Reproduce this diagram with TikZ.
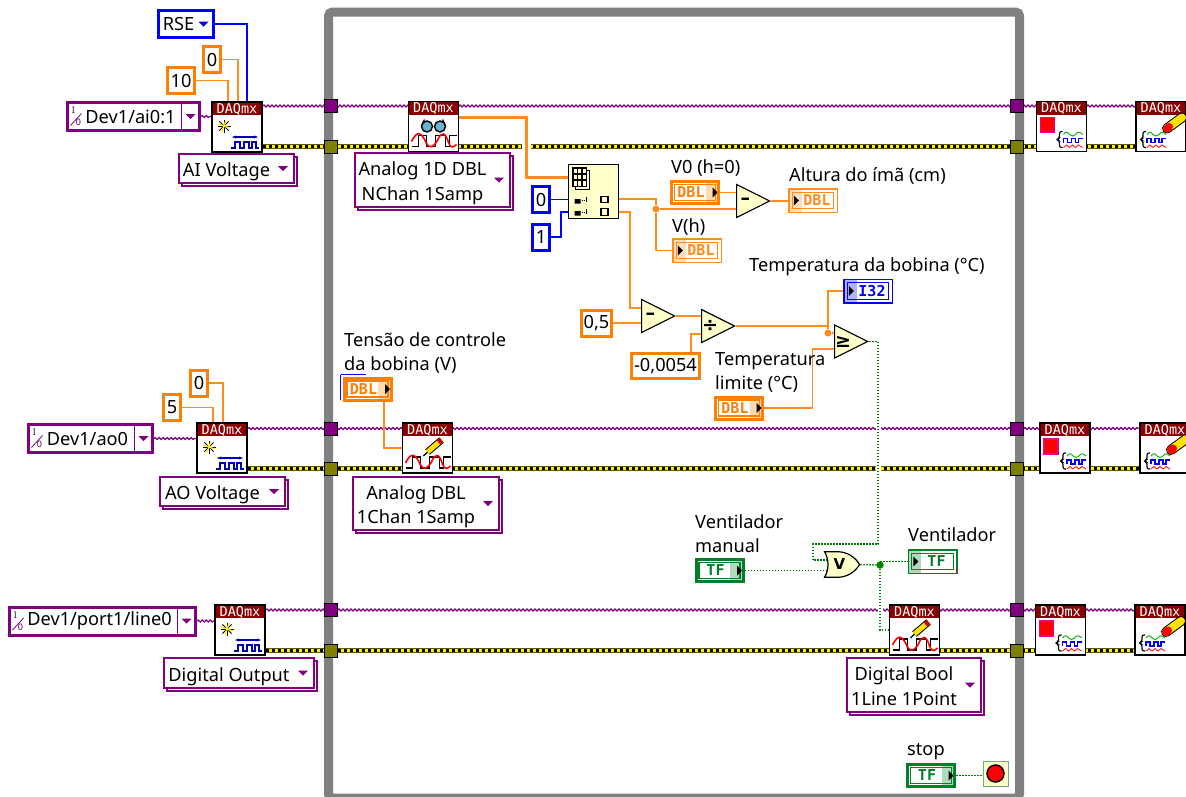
\documentclass[tikz,border=0pt]{standalone}
\usepackage{fontspec}
\setmainfont{Noto Sans}
\newfontfamily\monofam{DejaVu Sans Mono}
\newfontfamily\symfam{DejaVu Sans}
\usepackage{xcolor}
\usetikzlibrary{shapes.geometric, shapes.gates.logic.US, arrows.meta, shadows, backgrounds, decorations.pathmorphing, positioning, calc}
\definecolor{lvorange}{RGB}{255,128,0}
\definecolor{lvwire}{RGB}{255,140,30}
\definecolor{lvblue}{RGB}{0,0,255}
\definecolor{lvgreen}{RGB}{0,128,40}
\definecolor{lvpurple}{RGB}{128,0,128}
\definecolor{lvolive}{RGB}{128,128,0}
\definecolor{gatefill}{RGB}{255,255,204}
\definecolor{daqred}{RGB}{139,0,0}
\definecolor{loopgray}{RGB}{128,128,128}
\newcommand{\ppb}{path picture bounding box}
\newcommand{\lvfont}{\fontsize{18.2}{24.5}\selectfont}
\newcommand{\termfont}{\fontsize{15}{16}\selectfont\monofam\bfseries}
\newcommand{\seltext}[1]{\raisebox{-7.5pt}[0pt][0pt]{\begin{tabular}{@{}c@{\hspace{20pt}}}#1\end{tabular}}}
\tikzset{
    signalgl/.pic={
        \draw[black, line width=1.2pt] (-22,20) -- (-15,20) -- (-15,9) -- (-7,9) -- (-7,20) -- (2,20) -- (2,9) -- (12,9) -- (12,20) -- (16,20) -- (16,9) -- (23,9);
        \draw[red, line width=1.6pt] (-22,15) .. controls (-16,3) and (-12,6) .. (-7,17) .. controls (-3,23) and (0,20) .. (4,14) .. controls (8,4) and (12,6) .. (15,16) .. controls (17,22) and (20,21) .. (23,18);
    },
    creategl/.pic={
        \foreach \a in {0,45,...,315} {\draw[black, line width=1pt] (-13,-1) -- ++(\a:6.5);}
        \foreach \a in {20,110,200,290} {\draw[yellow, line width=1.4pt] (-13,-1) -- ++(\a:6);}
        \draw[{Stealth[length=4pt]}-{Stealth[length=4pt]}, lvblue!70!black, line width=1.1pt] (-5,10) -- (21,10);
        \draw[lvblue!70!black, line width=1.1pt] (-6,21) -- (-2,21) -- (-2,15) -- (3,15) -- (3,21) -- (7,21) -- (7,15) -- (12,15) -- (12,21) -- (15,21) -- (15,15) -- (19,15) -- (19,21) -- (22,21);
    },
    readgl/.pic={
        \draw[black, line width=1.2pt] (-12,-1) -- (-9,-7) (12,-1) -- (9,-7);
        \draw[black, fill=cyan!50!teal!70, line width=1.4pt] (-6.5,0) circle (5.5) (6.5,0) circle (5.5);
        \pic {signalgl};
    },
    writegl/.pic={
        \draw[black, line width=7pt] (0,4) -- (14,-8);
        \draw[yellow!85!orange, line width=5pt] (0,4) -- (14,-8);
        \draw[red!80!black, line width=5pt] (11,-5.5) -- (14,-8);
        \draw[black, line width=1.2pt] (-4,8) -- (0,4);
        \pic {signalgl};
    },
    taskgl/.pic={
        \draw[black, line width=1.1pt, rounded corners=2pt] (3,-8) -- (0,-8) -- (0,-1) -- (-3,0) -- (0,1) -- (0,8) -- (3,8);
        \draw[green!70!black, line width=0.9pt] (4,-5) .. controls (6,-8) and (8,-8) .. (10,-5) .. controls (12,-3) and (14,-3) .. (16,-5) .. controls (18,-8) and (20,-8) .. (23,-5);
        \draw[lvblue, line width=1.2pt] (4,3) -- (4,-1) -- (8,-1) -- (8,3) -- (12,3) -- (12,-1) -- (16,-1) -- (16,3) -- (19,3) -- (19,-1) -- (23,-1);
        \draw[red!90, line width=0.9pt] (4,8) -- (7,5.5) -- (10,8) -- (13,5.5) -- (16,8) -- (19,5.5) -- (23,8);
    },
    stopgl/.pic={
        \draw[magenta, fill=red, line width=1.2pt] (-21,-9) rectangle (-7,6);
        \pic at (-2,13) {taskgl};
    },
    cleargl/.pic={
        \pic at (-18,13) {taskgl};
        \draw[black, line width=10pt, line cap=round] (6,2) -- (21,-9);
        \draw[yellow!85!orange, line width=8pt, line cap=round] (6,2) -- (21,-9);
        \draw[red, line width=8pt, line cap=round] (6,2) -- (8,0.5);
    },
    arraygl/.pic={
        \draw[black, line width=1.1pt] (-20.5,-23.5) rectangle (-7,-5) (-16,-23.5) -- (-16,-5) (-11.5,-23.5) -- (-11.5,-5) (-20.5,-17.5) -- (-7,-17.5) (-20.5,-11.5) -- (-7,-11.5);
        \draw[black, line width=1.1pt] (-7,-21) -- (-4,-21) -- (-4,-2) -- (-18,-2) -- (-18,-5);
        \fill[black] (-19,7.5) rectangle (-13,12) (-19,19.5) rectangle (-13,24);
        \draw[black, line width=1pt, densely dotted] (-12,9) -- (-8,9) (-12,21) -- (-8,21);
        \draw[black, line width=1.2pt] (-7,10) -- (-7,5) (-7,22) -- (-7,17);
        \draw[black, line width=1.2pt] (7.5,5) rectangle (14.5,11) (7.5,17) rectangle (14.5,24);
    }
}
\begin{document}
\begin{tikzpicture}[x=1pt, y=-1pt,
    vibox/.style={draw=black, line width=1.5pt, fill=white, minimum size=50pt, inner sep=0pt,
        path picture={
            \fill[daqred] (\ppb.north west) rectangle ([yshift=-13pt]\ppb.north east);
            \node[text=white, inner sep=0pt, font=\fontsize{13.5}{14}\selectfont\monofam] at ([yshift=-7pt]\ppb.north) {DAQmx};
        }},
    tunnel/.style={draw=black, line width=1pt, fill=#1, minimum size=13pt, inner sep=0pt},
    constbox/.style={draw=#1, line width=3pt, fill=white, inner sep=0pt, minimum width=17pt, minimum height=26pt, font=\lvfont},
    enumbox/.style={draw=lvblue, line width=3pt, fill=white, inner sep=0pt, minimum width=55pt, minimum height=27pt, font=\lvfont,
        path picture={\fill[lvblue] ([xshift=-15pt,yshift=2.5pt]\ppb.east) -- ++(10,0) -- ++(-5,5) -- cycle;}},
    pathctl/.style={draw=lvpurple, line width=3pt, fill=white, inner sep=0pt, minimum height=28pt, font=\lvfont,
        path picture={
            \draw[lvpurple, line width=1.2pt] ([xshift=-18pt]\ppb.north east) -- ([xshift=-18pt]\ppb.south east);
            \fill[lvpurple] ([xshift=-14pt,yshift=2.5pt]\ppb.east) -- ++(10,0) -- ++(-5,5) -- cycle;
            \draw[lvpurple, line width=0.8pt] ([xshift=3pt,yshift=-9pt]\ppb.west) -- ([xshift=14pt,yshift=3pt]\ppb.west);
            \node[lvpurple!60!black, inner sep=0pt, font=\fontsize{9}{9}\selectfont] at ([xshift=6pt,yshift=6pt]\ppb.west) {I};
            \node[lvpurple!60!black, inner sep=0pt, font=\fontsize{9}{9}\selectfont] at ([xshift=11pt,yshift=-6pt]\ppb.west) {0};
        }},
    selbox/.style={draw=lvpurple, line width=1.2pt, fill=white, inner sep=0pt, font=\lvfont,
        copy shadow={shadow xshift=3pt, shadow yshift=-3pt, draw=lvpurple, fill=white},
        path picture={\fill[lvpurple] ([xshift=-16pt,yshift=2.5pt]\ppb.east) -- ++(10,0) -- ++(-5,5) -- cycle;}},
    ctlterm/.style={draw=#1, line width=3pt, fill=white, inner sep=0pt, minimum width=47pt, minimum height=22pt, font=\termfont, text=#1,
        path picture={
            \fill[#1!30] ([xshift=-13pt]\ppb.north east) rectangle (\ppb.south east);
            \draw[#1, line width=1.2pt] ([shift={(3pt,-3pt)}]\ppb.north west) rectangle ([shift={(-3pt,3pt)}]\ppb.south east);
            \fill[black] ([xshift=-6pt,yshift=5pt]\ppb.east) -- ++(5,5) -- ++(-5,5) -- cycle;
        }},
    indterm/.style={draw=#1, line width=1.5pt, fill=white, inner sep=0pt, minimum width=48.5pt, minimum height=23.5pt, font=\termfont, text=#1,
        path picture={
            \fill[#1!30] (\ppb.north west) rectangle ([xshift=13pt]\ppb.south west);
            \draw[#1, line width=1.2pt] ([shift={(3.5pt,-3.5pt)}]\ppb.north west) rectangle ([shift={(-3.5pt,3.5pt)}]\ppb.south east);
            \fill[black] ([xshift=5pt,yshift=5pt]\ppb.west) -- ++(5,5) -- ++(-5,5) -- cycle;
        }},
    gate/.style={isosceles triangle, isosceles triangle stretches, shape border rotate=0, draw=black, line width=1.2pt, fill=gatefill,
        minimum width=33pt, minimum height=33pt, inner sep=0pt, anchor=west, font=\fontsize{19}{19}\selectfont\symfam\bfseries},
    junction/.style={circle, fill=#1, minimum size=7pt, inner sep=0pt},
    lbl/.style={anchor=base west, inner sep=0pt, font=\lvfont, align=left, text=black},
    orwire/.style={draw=lvwire, line width=1.8pt},
    blwire/.style={draw=lvblue, line width=1.3pt},
    grwire/.style={draw=green!50!black, line width=1.5pt, dash pattern=on 1.5pt off 1.5pt, preaction={draw=white, solid, line width=5pt}},
    taskwire/.style={draw=lvpurple, line width=1.1pt, decorate, decoration={snake, amplitude=1pt, segment length=4pt}},
    errwire/.style={draw=black, line width=2.6pt, dash pattern=on 3pt off 3pt,
        preaction={draw=lvolive!70!black, solid, line width=5.5pt}, preaction={draw=yellow, solid, line width=3.2pt}}
]
\useasboundingbox (0,0) rectangle (1186,796);

\node[pathctl, minimum width=132pt] (devai) at (133.5,116.5) {Dev1/ai0:1\hspace*{6pt}};
\node[pathctl, minimum width=124pt] (devao) at (90.5,438.5) {Dev1/ao0\hspace*{6pt}};
\node[pathctl, minimum width=186pt] (devport) at (102.5,621) {Dev1/port1/line0\hspace*{6pt}};
\node[enumbox] (crse) at (186,24) {RSE\hspace*{15pt}};
\node[constbox=lvorange] (cmin1) at (212,59.5) {0};
\node[constbox=lvorange, minimum width=27pt] (cmax1) at (181,80.5) {10};
\node[constbox=lvorange] (cmin2) at (199,383) {0};
\node[constbox=lvorange] (cmax2) at (172,407.5) {5};

\foreach \r/\x/\y in {1/237/127, 2/222/448, 3/240/630} {
    \node[vibox] (create\r) at (\x,\y) {};
    \pic at (create\r) {creategl};
}
\node[selbox, minimum width=115pt, minimum height=29pt] (selai) at (236.5,168.5) {\seltext{AI Voltage}};
\node[selbox, minimum width=125pt, minimum height=29pt] (selao) at (222.5,491.5) {\seltext{AO Voltage}};
\node[selbox, minimum width=150pt, minimum height=30pt] (seldo) at (239,673) {\seltext{Digital Output}};

\node[vibox] (read1) at (433.5,126.5) {};
\pic at (read1) {readgl};
\node[vibox] (write1) at (427.5,448) {};
\pic at (write1) {writegl};
\node[vibox] (write3) at (914.5,630) {};
\pic at (write3) {writegl};
\node[selbox, minimum width=155pt, minimum height=54pt] (selread) at (432.5,180) {\seltext{Analog 1D DBL\\NChan 1Samp}};
\node[selbox, minimum width=146pt, minimum height=53pt] (selwrite) at (426,503.5) {\seltext{Analog DBL\\1Chan 1Samp}};
\node[selbox, minimum width=134pt, minimum height=54pt] (seldig) at (914,685) {\seltext{Digital Bool\\1Line 1Point}};

\foreach \r/\a/\b/\y in {1/1061.5/1161/126.5, 2/1065/1165/448, 3/1060.5/1160/630} {
    \node[vibox] (stop\r) at (\a,\y) {};
    \pic at (stop\r) {stopgl};
    \node[vibox] (clear\r) at (\b,\y) {};
    \pic at (clear\r) {cleargl};
}
\foreach \r/\p/\e in {1/106/146.5, 2/428.5/468.5, 3/610/650.5} {
    \node[tunnel=lvpurple] (pl\r) at (331,\p) {};
    \node[tunnel=lvolive] (el\r) at (331,\e) {};
    \node[tunnel=lvpurple] (pr\r) at (1017,\p) {};
    \node[tunnel=lvolive] (er\r) at (1017,\e) {};
}

\node[draw=black, line width=1.5pt, fill=gatefill, minimum width=50pt, minimum height=54pt, inner sep=0pt] (idx) at (593.5,191.5) {};
\pic at (idx) {arraygl};
\node[constbox=lvblue] (cidx0) at (541,199.5) {0};
\node[constbox=lvblue] (cidx1) at (541,237) {1};
\node[ctlterm=lvorange] (vzero) at (695,192.5) {DBL\hspace*{8pt}};
\node[indterm=lvwire] (vh) at (697,250.5) {\hspace*{8pt}DBL};
\node[indterm=lvwire] (altura) at (813,200.5) {\hspace*{8pt}DBL};
\node[gate] (sub1) at (736,201) {\hspace*{-2pt}–};
\node[gate] (sub2) at (641,316) {\hspace*{-2pt}–};
\node[constbox=lvorange, minimum width=30pt] (coff) at (596.5,323) {0,5};
\node[gate] (divd) at (701,326) {\hspace*{-2pt}÷};
\node[constbox=lvorange, minimum width=68pt, minimum height=25pt] (cgain) at (665.5,366) {-0,0054};
\node[gate] (cmp) at (834,341.5) {\hspace*{-2pt}≥};
\node[indterm=lvblue] (temp) at (868,291) {\hspace*{8pt}I32};
\node[ctlterm=lvorange] (tlim) at (739,408) {DBL\hspace*{8pt}};
\node[ctlterm=lvorange] (tens) at (367.5,389) {DBL\hspace*{8pt}};
\node[ctlterm=lvgreen] (vman) at (719.5,570.5) {TF\hspace*{8pt}};
\node[indterm=lvgreen] (vent) at (932.5,561.5) {\hspace*{8pt}TF};
\node[ctlterm=lvgreen] (stopctl) at (931,775.5) {TF\hspace*{8pt}};
\node[or gate US, logic gate inputs=nn, draw=black, line width=1.2pt, fill=gatefill, minimum width=35pt, minimum height=25pt, inner sep=0pt, font=\fontsize{15}{15}\selectfont\symfam\bfseries] (orv) at (839.5,564.5) {V};
\node[draw=lvgreen!60, line width=1pt, fill=gatefill, minimum width=25pt, minimum height=25pt, inner sep=0pt] (stopterm) at (995.5,773.5) {};
\node[draw=black, line width=1.5pt, fill=red, circle, minimum size=17pt, inner sep=0pt] (stoplamp) at (stopterm) {};

\node[junction=lvwire] (j1) at (656,209) {};
\node[junction=lvwire] (j2) at (828,333) {};
\node[junction=green!50!black, draw=green!70!black] (j3) at (880,565) {};

\node[lbl] (lblv0) at (671,173) {V0 (h=0)};
\node[lbl] (lblalt) at (789,181) {Altura do ímã (cm)};
\node[lbl] (lblvh) at (672,232) {V(h)};
\node[lbl] (lbltemp) at (749,271) {Temperatura da bobina (°C)};
\node[lbl, anchor=north west] (lbllim) at (715,352) {Temperatura\\limite (°C)};
\node[lbl, anchor=north west] (lbltens) at (344,332) {Tensão de controle\\da bobina (V)};
\node[lbl, anchor=north west] (lblman) at (695,514) {Ventilador\\manual};
\node[lbl] (lblvent) at (908,541) {Ventilador};
\node[lbl] (lblstop) at (907,755) {stop};

\begin{scope}[on background layer]
\node[draw=loopgray, line width=9pt, rounded corners=4pt, minimum width=691pt, minimum height=786pt] (loop) at (674,405) {};
\draw[draw=lvblue, line width=1.3pt] ([shift={(-2pt,2pt)}]tens.north west) -- ++(0,25) ([shift={(-2pt,2pt)}]tens.north west) -- ++(25,0);
\foreach \r in {1,2,3} {
    \draw[taskwire] (create\r.east |- pl\r) -- (clear\r.west |- pl\r);
    \draw[errwire] (create\r.east |- el\r) -- (clear\r.west |- el\r);
}
\draw[taskwire] (devai.east) -- (devai.east -| create1.west);
\draw[taskwire] (devao.east) -- (devao.east -| create2.west);
\draw[taskwire] (devport.east) -- (devport.east -| create3.west);
\draw[blwire] (crse.east) -| ([xshift=10pt]create1.north);
\draw[orwire] (cmin1.east) -| ([xshift=1pt]create1.north);
\draw[orwire] (cmax1.east) -| ([xshift=-9pt]create1.north);
\draw[orwire] (cmin2.east) -| ([xshift=1pt]create2.north);
\draw[orwire] (cmax2.east) -| ([xshift=-9pt]create2.north);
\draw[orwire, line width=3pt, preaction={draw=white, line width=9pt}] ([yshift=9.5pt]read1.east) -- ++(67,0) |- ([yshift=14.5pt]idx.west);
\draw[blwire] (cidx0.east) -- (cidx0.east -| idx.west);
\draw[blwire] (cidx1.east) -- ++(10,0) |- ([yshift=-20.5pt]idx.west);
\draw[orwire] ([yshift=-7.5pt]idx.east) -| (j1);
\draw[orwire] (j1) |- (vh.west);
\draw[orwire] (j1) -- (j1 -| sub1.west);
\draw[orwire] (vzero.east) -- (vzero.east -| sub1.west);
\draw[orwire] (sub1.apex) -- (sub1.apex -| altura.west);
\draw[orwire] ([yshift=-20.5pt]idx.east) -- ++(11,0) |- ([yshift=8pt]sub2.west);
\draw[orwire] (coff.east) -- (coff.east -| sub2.west);
\draw[orwire] (sub2.apex) -- (sub2.apex -| divd.west);
\draw[orwire] ([xshift=25.5pt]cgain.north) |- ([yshift=-8pt]divd.west);
\draw[orwire] (divd.apex) -| (j2);
\draw[orwire] (j2) -- (j2 -| cmp.west);
\draw[orwire] (j2) |- (temp.west);
\draw[orwire] (tlim.east) -- ++(48.5,0) |- ([yshift=-7.5pt]cmp.west);
\draw[orwire] ([xshift=16.5pt]tens.south) |- (write1.west);
\draw[grwire] (cmp.apex) -- ++(9,0) -- ++(0,202.5) -- ++(-65,0) |- (orv.input 1);
\draw[grwire] (vman.east) -- (vman.east -| orv.input 2);
\draw[grwire] (orv.output) -- (j3);
\draw[grwire] (j3 |- vent.west) -- (vent.west);
\draw[grwire] (j3) |- (write3.west);
\draw[grwire] (stopctl.east) -- (stopctl.east -| stopterm.west);
\end{scope}
\end{tikzpicture}
\end{document}
